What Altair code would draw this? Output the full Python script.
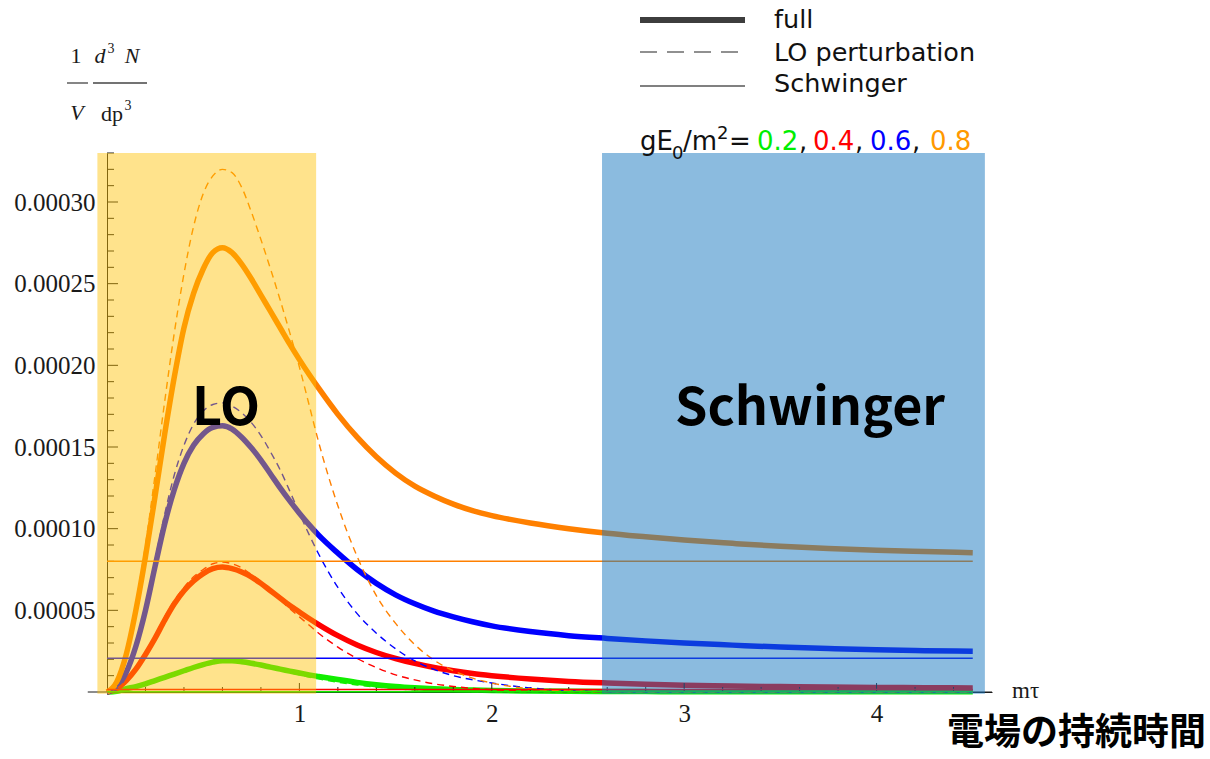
import altair as alt
import pandas as pd

# ---------------- data (values in units of 1e-5) ----------------
X = [0.0, 0.05, 0.1, 0.15, 0.2, 0.25, 0.3, 0.35, 0.4, 0.45, 0.5, 0.55, 0.6, 0.65, 0.7,
     0.75, 0.8, 0.85, 0.9, 0.95, 1.0, 1.05, 1.1, 1.2, 1.3, 1.4, 1.5, 1.6, 1.7, 1.8, 1.9,
     2.0, 2.2, 2.4, 2.6, 2.8, 3.0, 3.25, 3.5, 3.75, 4.0, 4.25, 4.5]

SERIES = ["0.2", "0.4", "0.6", "0.8"]
COLORS = ["#11EE00", "#FF0000", "#0000FF", "#FF8000"]

FULL_02 = [0, 0.05, 0.2, 0.33, 0.5, 0.7, 0.9, 1.1, 1.3, 1.5, 1.68, 1.83, 1.92, 1.91, 1.85,
           1.76, 1.65, 1.52, 1.40, 1.28, 1.16, 1.05, 0.95, 0.76, 0.59, 0.45, 0.34, 0.26, 0.2,
           0.15, 0.12, 0.09, 0.06, 0.04, 0.03, 0.025, 0.02, 0.02, 0.02, 0.015, 0.015, 0.015, 0.015]
FULL_04 = [0, 0.2, 0.7, 1.4, 2.3, 3.3, 4.4, 5.4, 6.2, 6.8, 7.25, 7.55, 7.65, 7.55, 7.35,
           7.05, 6.65, 6.2, 5.75, 5.3, 4.9, 4.5, 4.13, 3.45, 2.88, 2.42, 2.05, 1.75, 1.5,
           1.3, 1.13, 1.0, 0.8, 0.65, 0.55, 0.47, 0.41, 0.37, 0.33, 0.3, 0.28, 0.26, 0.25]
FULL_06 = [0, 0.3, 1.2, 2.8, 5.0, 7.7, 10.3, 12.4, 14.0, 15.1, 15.8, 16.2, 16.3, 16.1, 15.6,
           14.95, 14.2, 13.35, 12.5, 11.7, 10.95, 10.25, 9.6, 8.5, 7.5, 6.65, 5.95, 5.4, 4.95,
           4.6, 4.3, 4.05, 3.7, 3.45, 3.28, 3.13, 3.0, 2.87, 2.75, 2.66, 2.58, 2.53, 2.5]
FULL_08 = [0, 0.6, 2.3, 5.0, 8.3, 12.0, 15.8, 19.3, 22.3, 24.4, 25.9, 26.9, 27.2, 26.9, 26.2,
           25.3, 24.3, 23.3, 22.3, 21.3, 20.35, 19.45, 18.6, 17.0, 15.6, 14.4, 13.4, 12.6, 12.0,
           11.5, 11.1, 10.8, 10.35, 10.0, 9.72, 9.5, 9.3, 9.1, 8.92, 8.78, 8.68, 8.6, 8.53]

LO_02 = [0, 0.05, 0.2, 0.34, 0.52, 0.72, 0.93, 1.14, 1.35, 1.56, 1.74, 1.88, 1.97, 1.96, 1.88,
         1.76, 1.62, 1.47, 1.32, 1.18, 1.05, 0.92, 0.8, 0.6, 0.43, 0.3, 0.2, 0.13, 0.08,
         0.05, 0.03, 0.02, 0.01, 0, 0, 0, 0, 0, 0, 0, 0, 0, 0]
LO_04 = [0, 0.2, 0.7, 1.45, 2.4, 3.45, 4.6, 5.6, 6.4, 7.05, 7.5, 7.85, 7.95, 7.85, 7.6,
         7.2, 6.75, 6.2, 5.65, 5.1, 4.6, 4.1, 3.6, 2.75, 2.05, 1.5, 1.05, 0.74, 0.5,
         0.34, 0.22, 0.14, 0.05, 0.02, 0, 0, 0, 0, 0, 0, 0, 0, 0]
LO_06 = [0, 0.3, 1.2, 2.9, 5.3, 8.1, 10.9, 13.3, 15.1, 16.4, 17.2, 17.6, 17.7, 17.5, 17.1,
         16.5, 15.7, 14.7, 13.6, 12.3, 10.95, 9.65, 8.45, 6.4, 4.8, 3.6, 2.65, 1.9, 1.38,
         1.0, 0.75, 0.55, 0.25, 0.08, 0.02, 0, 0, 0, 0, 0, 0, 0, 0]
LO_08 = [0, 0.6, 2.4, 5.4, 9.0, 13.3, 17.8, 22.0, 25.6, 28.5, 30.5, 31.6, 32.0, 31.8, 30.9,
         29.4, 27.7, 25.9, 24.0, 22.0, 19.9, 17.6, 15.3, 11.4, 8.3, 5.9, 4.2, 2.9, 1.95,
         1.3, 0.85, 0.55, 0.2, 0.07, 0.02, 0, 0, 0, 0, 0, 0, 0, 0]

SCHWINGER = [0.01, 0.15, 2.06, 8.0]
SCHWINGER_X = [0.0, 4.5]

Y_LABEL_TICKS = [5, 10, 15, 20, 25, 30]
Y_MINOR_TICKS = [1, 2, 3, 4, 6, 7, 8, 9, 11, 12, 13, 14, 16, 17, 18, 19, 21, 22, 23, 24,
                 26, 27, 28, 29, 31, 32, 33]
X_LABEL_TICKS = [1, 2, 3, 4]
X_MINOR_TICKS = [0.2, 0.4, 0.6, 0.8, 1.2, 1.4, 1.6, 1.8, 2.2, 2.4, 2.6, 2.8, 3.2, 3.4,
                 3.6, 3.8, 4.2, 4.4]

LO_REGION = [-0.05, 1.087]
SCHW_REGION = [2.573, 4.563]
REGION_Y = [-0.1, 33.0]
X_AXIS_EXTENT = [-0.1, 4.6]

UNIT = 1e-5
X_DOMAIN = [0, 4.6]
Y_DOMAIN = [0, 33 * UNIT]

# ---------------- layout ----------------
W, H = 885, 539
OX, OY = 107, 153
SERIF = "Liberation Serif"
SANS = "DejaVu Sans"
CJK = "Noto Sans CJK JP"
INK = "#1a1a1a"

full_tab = pd.DataFrame([
    {"x": x, "y": v * UNIT, "g": g}
    for g, vals in zip(SERIES, [FULL_02, FULL_04, FULL_06, FULL_08])
    for x, v in zip(X, vals)
])
lo_tab = pd.DataFrame([
    {"x": x, "y": v * UNIT, "g": g}
    for g, vals in zip(SERIES, [LO_02, LO_04, LO_06, LO_08])
    for x, v in zip(X, vals)
])
schw_tab = pd.DataFrame([
    {"x": x, "y": v * UNIT, "g": g}
    for g, v in zip(SERIES, SCHWINGER)
    for x in SCHWINGER_X
])

xs = alt.Scale(domain=X_DOMAIN, nice=False, zero=False)
ys = alt.Scale(domain=Y_DOMAIN, nice=False, zero=False)
cs = alt.Scale(domain=SERIES, range=COLORS)

full = alt.Chart(full_tab).mark_line(strokeWidth=5.5, interpolate="monotone").encode(
    x=alt.X("x:Q", scale=xs, axis=alt.Axis(
        orient="bottom", values=X_LABEL_TICKS, format="d", ticks=False, grid=False, title=None,
        domainColor=INK, labelFont=SERIF, labelFontSize=25, labelColor=INK,
        labelPadding=9)),
    y=alt.Y("y:Q", scale=ys, axis=alt.Axis(
        orient="left", values=[v * UNIT for v in Y_LABEL_TICKS], format=".5f", ticks=False,
        grid=False, title=None, domainColor=INK, labelFont=SERIF, labelFontSize=25,
        labelColor=INK, labelPadding=12)),
    color=alt.Color("g:N", scale=cs, legend=None),
)

lo = alt.Chart(lo_tab).mark_line(strokeWidth=1.4, strokeDash=[7, 5], interpolate="monotone").encode(
    x=alt.X("x:Q", scale=xs, axis=None),
    y=alt.Y("y:Q", scale=ys, axis=None),
    color=alt.Color("g:N", scale=cs, legend=None),
)

schw = alt.Chart(schw_tab).mark_line(strokeWidth=1.5).encode(
    x=alt.X("x:Q", scale=xs, axis=None),
    y=alt.Y("y:Q", scale=ys, axis=None),
    color=alt.Color("g:N", scale=cs, legend=None),
)


# inward-pointing ticks (Mathematica style)
def yticks(vals, length):
    tab = pd.DataFrame({"y": [v * UNIT for v in vals]})
    return alt.Chart(tab).mark_rule(color=INK, strokeWidth=1).encode(
        y=alt.Y("y:Q", scale=ys, axis=None), x=alt.value(0), x2=alt.value(length))


def xticks(vals, length):
    tab = pd.DataFrame({"x": vals})
    return alt.Chart(tab).mark_rule(color=INK, strokeWidth=1).encode(
        x=alt.X("x:Q", scale=xs, axis=None), y=alt.value(H), y2=alt.value(H - length))


axis_ext = alt.Chart(pd.DataFrame({"x": [X_AXIS_EXTENT[0]], "x2": [X_AXIS_EXTENT[1]]})).mark_rule(
    color=INK, strokeWidth=1).encode(
    x=alt.X("x:Q", scale=xs, axis=None), x2="x2:Q", y=alt.value(H))

ticks = [yticks(Y_LABEL_TICKS, 11), yticks(Y_MINOR_TICKS, 7),
         xticks(X_LABEL_TICKS, 9), xticks(X_MINOR_TICKS, 5), axis_ext]


def region(rng, fill, opacity):
    tab = pd.DataFrame({"x": [rng[0]], "x2": [rng[1]],
                        "y": [REGION_Y[0] * UNIT], "y2": [REGION_Y[1] * UNIT]})
    return alt.Chart(tab).mark_rect(fill=fill, opacity=opacity).encode(
        x=alt.X("x:Q", scale=xs, axis=None), x2="x2:Q",
        y=alt.Y("y:Q", scale=ys, axis=None), y2="y2:Q")


regions = [region(LO_REGION, "#FFC000", 0.45), region(SCHW_REGION, "#1877C0", 0.5)]

ONE = alt.Data(values=[{}])


def text(t, x, y, size, font, color="#000", align="center", weight="normal", style="normal"):
    return alt.Chart(ONE).mark_text(
        text=t, fontSize=size, font=font, color=color, align=align, baseline="alphabetic",
        fontWeight=weight, fontStyle=style,
    ).encode(x=alt.value(x - OX), y=alt.value(y - OY))


def hline(x1, x2, y, color, width, dash=None):
    kw = {"color": color, "strokeWidth": width}
    if dash:
        kw["strokeDash"] = dash
    return alt.Chart(ONE).mark_rule(**kw).encode(
        x=alt.value(x1 - OX), x2=alt.value(x2 - OX), y=alt.value(y - OY))


LS = 26  # legend font size
annots = [
    text("LO", 226, 425, 52, CJK, weight="bold"),
    text("Schwinger", 810, 425, 52, CJK, weight="bold"),
    text("電場の持続時間", 947, 745, 37, CJK, align="left", weight="bold"),
    text("mτ", 1012, 698, 23, SERIF, color=INK, align="left"),
    # y title: 1/V d^3N/dp^3
    text("1", 76, 63, 22, SERIF, color=INK),
    hline(67, 88, 83, "#444", 1.3),
    text("V", 77, 120, 22, SERIF, color=INK, style="italic"),
    text("d", 100, 63, 22, SERIF, color=INK, style="italic"),
    text("3", 111, 53, 14, SERIF, color=INK),
    text("N", 132, 63, 22, SERIF, color=INK, style="italic"),
    hline(93, 147, 83, "#444", 1.3),
    text("dp", 112, 121, 22, SERIF, color=INK),
    text("3", 128, 110, 14, SERIF, color=INK),
    # legend
    hline(640, 745, 20, "#3d3d3d", 6),
    hline(640, 745, 52, "#909090", 2, [17, 10]),
    hline(640, 745, 86, "#808080", 2),
    text("full", 774, 28, 25.5, SANS, color="#111", align="left"),
    text("LO perturbation", 774, 61, 25.5, SANS, color="#111", align="left"),
    text("Schwinger", 774, 92, 25.5, SANS, color="#111", align="left"),
    text("gE", 640, 150, LS, SANS, color="#111", align="left"),
    text("0", 672, 159, 18, SANS, color="#111", align="left"),
    text("/m", 683, 150, LS, SANS, color="#111", align="left"),
    text("2", 717, 139, 18, SANS, color="#111", align="left"),
    text("=", 729, 150, LS, SANS, color="#111", align="left"),
    text("0.2", 757, 150, LS, SANS, color="#00EE00", align="left"),
    text(",", 799, 150, LS, SANS, color="#111", align="left"),
    text("0.4", 813, 150, LS, SANS, color="#FF0000", align="left"),
    text(",", 855, 150, LS, SANS, color="#111", align="left"),
    text("0.6", 870, 150, LS, SANS, color="#0000FF", align="left"),
    text(",", 912, 150, LS, SANS, color="#111", align="left"),
    text("0.8", 930, 150, LS, SANS, color="#FF9900", align="left"),
]

chart = alt.layer(full, *ticks, lo, schw, *regions, *annots).properties(
    width=W, height=H,
    autosize=alt.AutoSizeParams(type="none"),
    padding={"left": OX, "top": OY, "right": 1210 - OX - W, "bottom": 759 - OY - H},
    background="white",
).resolve_axis(x="independent", y="independent").configure_view(stroke=None)

chart.save("out.html", embed_options={"renderer": "svg", "actions": False})
